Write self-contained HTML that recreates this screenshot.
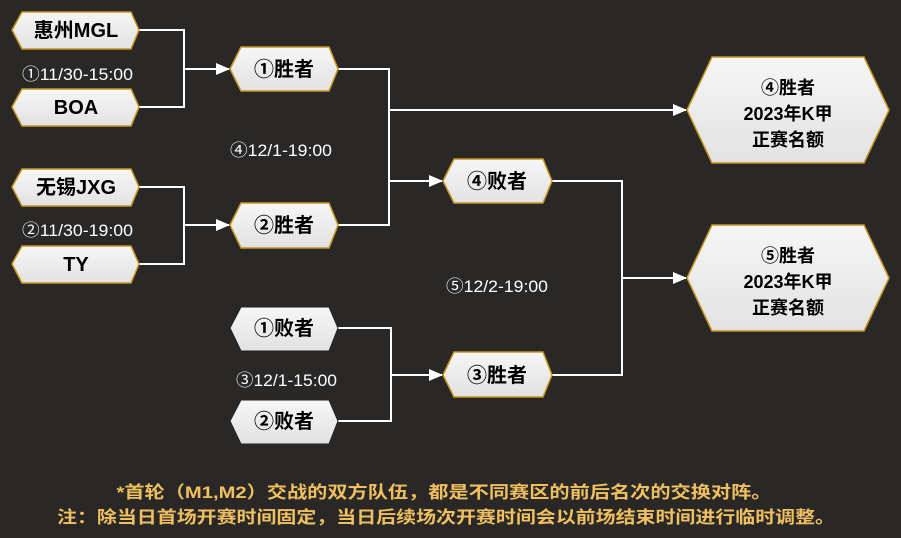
<!DOCTYPE html>
<html><head><meta charset="utf-8"><style>
html,body{margin:0;padding:0;background:#292827;}
svg{display:block;}
text{font-family:"Liberation Sans","Noto Sans CJK SC",sans-serif;}
</style></head><body>
<svg width="901" height="538" viewBox="0 0 901 538" xmlns="http://www.w3.org/2000/svg">
<defs>
<linearGradient id="g" x1="0" y1="0" x2="0" y2="1"><stop offset="0" stop-color="#f6f6f6"/><stop offset="1" stop-color="#e2e2e2"/></linearGradient>
<marker id="a" markerWidth="14" markerHeight="12" refX="13" refY="6" orient="auto" markerUnits="userSpaceOnUse"><path d="M0,0 L14,6 L0,12 z" fill="#fff"/></marker>
</defs>
<rect width="901" height="538" fill="#292827"/>
<g fill="none" stroke="#fff" stroke-width="2">
<polyline points="139,30 184,30 184,107 139,107"/>
<line x1="184" y1="69" x2="229" y2="69" marker-end="url(#a)"/>
<polyline points="139,187 184,187 184,264 139,264"/>
<line x1="184" y1="225" x2="229" y2="225" marker-end="url(#a)"/>
<polyline points="338,69 389,69 389,225 338,225"/>
<line x1="389" y1="181" x2="442" y2="181" marker-end="url(#a)"/>
<polyline points="389,110 686,110" marker-end="url(#a)"/>
<polyline points="338,328 391,328 391,421 338,421"/>
<line x1="391" y1="375" x2="442" y2="375" marker-end="url(#a)"/>
<polyline points="552,181 622,181 622,375 552,375"/>
<line x1="622" y1="278" x2="686" y2="278" marker-end="url(#a)"/>
</g>
<g fill="url(#g)" stroke="#c8961e" stroke-width="1.5">
<polygon points="12,30 22,12 131,12 139,30 131,49 22,49"/>
<polygon points="12,107 22,89 131,89 139,107 131,126 22,126"/>
<polygon points="12,187 22,169 131,169 139,187 131,206 22,206"/>
<polygon points="12,264 22,246 131,246 139,264 131,283 22,283"/>
<polygon points="230,69 241,47 329,47 338,69 329,91 241,91"/>
<polygon points="230,225 241,203 329,203 338,225 329,248 241,248"/>
<polygon points="443,181 454,159 543,159 552,181 543,203 454,203"/>
<polygon points="443,375 454,352 543,352 552,375 543,397 454,397"/>
<polygon points="687,110 712,57 864,57 889,110 864,163 712,163"/>
<polygon points="687,278 712,225 864,225 889,278 864,331 712,331"/>
</g>
<g fill="url(#g)" stroke="#222" stroke-width="1">
<polygon points="230,328 241,307 329,307 338,328 329,351 241,351"/>
<polygon points="230,421 241,400 329,400 338,421 329,444 241,444"/>
</g>
<g fill="#000" font-weight="bold" font-size="20" text-anchor="middle">
<text x="76" y="37">惠州MGL</text>
<text x="76" y="114">BOA</text>
<text x="76" y="194">无锡JXG</text>
<text x="76" y="271">TY</text>
<text x="284" y="76">①胜者</text>
<text x="284" y="232">②胜者</text>
<text x="284" y="335">①败者</text>
<text x="284" y="428">②败者</text>
<text x="497" y="188">④败者</text>
<text x="497" y="382">③胜者</text>
</g>
<g fill="#000" font-weight="bold" font-size="18" text-anchor="middle">
<text x="788" y="94">④胜者</text><text x="788" y="120">2023年K甲</text><text x="788" y="146">正赛名额</text>
<text x="788" y="262">⑤胜者</text><text x="788" y="288">2023年K甲</text><text x="788" y="314">正赛名额</text>
</g>
<g fill="#fff" font-size="17">
<text x="22" y="80" textLength="111" lengthAdjust="spacingAndGlyphs">①11/30-15:00</text>
<text x="230" y="156" textLength="102" lengthAdjust="spacingAndGlyphs">④12/1-19:00</text>
<text x="22" y="236" textLength="111" lengthAdjust="spacingAndGlyphs">②11/30-19:00</text>
<text x="446" y="292" textLength="102" lengthAdjust="spacingAndGlyphs">⑤12/2-19:00</text>
<text x="236" y="386" textLength="101" lengthAdjust="spacingAndGlyphs">③12/1-15:00</text>
</g>
<g fill="#f0c060" font-weight="bold" font-size="17" text-anchor="middle">
<text x="444" y="498" textLength="655" lengthAdjust="spacingAndGlyphs">*首轮（M1,M2）交战的双方队伍，都是不同赛区的前后名次的交换对阵。</text>
<text x="446" y="523" textLength="778" lengthAdjust="spacingAndGlyphs">注：除当日首场开赛时间固定，当日后续场次开赛时间会以前场结束时间进行临时调整。</text>
</g>
</svg>
</body></html>
